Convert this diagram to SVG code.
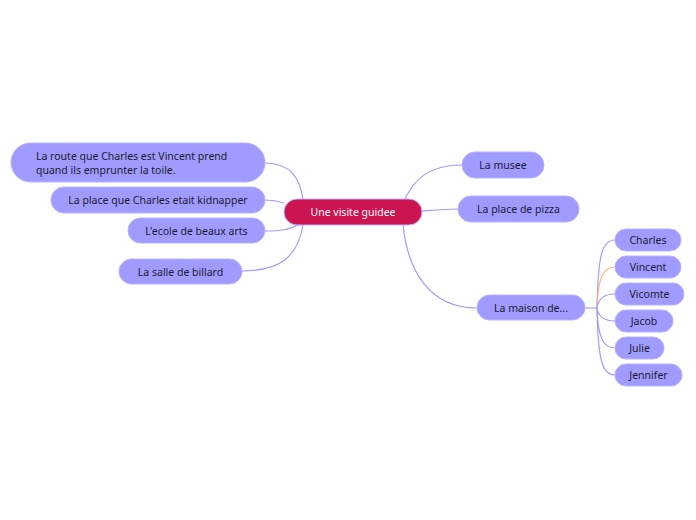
<svg xmlns="http://www.w3.org/2000/svg" width="696" height="520" viewBox="0 0 696 520">
<style>
.n{fill:#a09bff;stroke:#b6b2ff;stroke-width:1}
.t{font-family:"Noto Sans","Open Sans",sans-serif;font-size:10.5px;fill:#1b1b2f}
.c{fill:none;stroke:#a09bff;stroke-width:1.2}
</style>
<rect width="696" height="520" fill="#ffffff"/>
<g id="connectors">
<path class="c" d="M303,199 C300,180 292,163 265,163"/>
<path class="c" d="M284,203 C278,201 272,200 265,200"/>
<path class="c" d="M299,224 C290,230 280,231 265,231"/>
<path class="c" d="M303,225 C298,255 282,271 242,271"/>
<path class="c" d="M405,199 C414,180 428,165 462,165"/>
<path class="c" d="M422,211 C435,210 446,209 458,209"/>
<path class="c" d="M403,225 C408,272 430,308 477,308"/>
<path class="c" d="M585,308 L597,308"/>
<path class="c" d="M597,308 C598,255 602,240 615,240"/>
<path class="c" d="M597,308 C598,280 602,267 615,267" style="stroke:#f8b77a"/>
<path class="c" d="M597,308 C598,300 602,294 615,294"/>
<path class="c" d="M597,308 C598,314 602,321 615,321"/>
<path class="c" d="M597,308 C598,335 602,348 615,348"/>
<path class="c" d="M597,308 C598,360 602,375 615,375"/>
</g>
<g id="center">
<rect x="284" y="199" width="138" height="26" rx="13" fill="#cc1450" stroke="#b6b2ff"/>
<text class="t" x="353" y="216" text-anchor="middle" style="fill:#ffffff">Une visite guidee</text>
</g>
<g id="route">
<rect class="n" x="11" y="143" width="254" height="39" rx="19.5"/>
<text class="t" x="36" y="160">La route que Charles est Vincent prend</text>
<text class="t" x="36" y="174">quand ils emprunter la toile.</text>
</g>
<g id="place">
<rect class="n" x="51" y="187" width="214" height="26" rx="13"/>
<text class="t" x="158" y="204" text-anchor="middle">La place que Charles etait kidnapper</text>
</g>
<g id="ecole">
<rect class="n" x="128" y="218" width="137" height="25" rx="12.5"/>
<text class="t" x="196.5" y="235" text-anchor="middle">L'ecole de beaux arts</text>
</g>
<g id="salle">
<rect class="n" x="119" y="259" width="123" height="25" rx="12.5"/>
<text class="t" x="180.5" y="276" text-anchor="middle">La salle de billard</text>
</g>
<g id="musee">
<rect class="n" x="462" y="152" width="82" height="26" rx="13"/>
<text class="t" x="503" y="169" text-anchor="middle">La musee</text>
</g>
<g id="pizza">
<rect class="n" x="458" y="196" width="121" height="26" rx="13"/>
<text class="t" x="518.5" y="213" text-anchor="middle">La place de pizza</text>
</g>
<g id="maison">
<rect class="n" x="477" y="295" width="108" height="25" rx="12.5"/>
<text class="t" x="531" y="312" text-anchor="middle">La maison de...</text>
</g>
<g id="charles">
<rect class="n" x="615" y="229" width="66" height="22" rx="11"/>
<text class="t" x="648" y="244" text-anchor="middle">Charles</text>
</g>
<g id="vincent">
<rect class="n" x="615" y="256" width="66" height="22" rx="11"/>
<text class="t" x="648" y="271" text-anchor="middle">Vincent</text>
</g>
<g id="vicomte">
<rect class="n" x="615" y="283" width="69" height="22" rx="11"/>
<text class="t" x="649.5" y="298" text-anchor="middle">Vicomte</text>
</g>
<g id="jacob">
<rect class="n" x="615" y="310" width="58" height="22" rx="11"/>
<text class="t" x="644" y="325" text-anchor="middle">Jacob</text>
</g>
<g id="julie">
<rect class="n" x="615" y="337" width="49" height="22" rx="11"/>
<text class="t" x="639.5" y="352" text-anchor="middle">Julie</text>
</g>
<g id="jennifer">
<rect class="n" x="615" y="364" width="67" height="22" rx="11"/>
<text class="t" x="648.5" y="379" text-anchor="middle">Jennifer</text>
</g>
</svg>
